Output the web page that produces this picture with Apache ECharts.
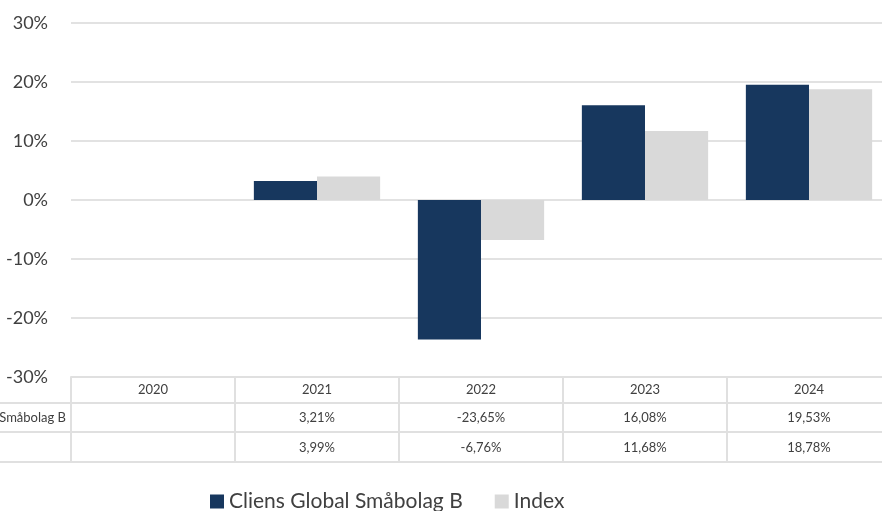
<!DOCTYPE html>
<html>
<head>
<meta charset="utf-8">
<script src="https://cdn.jsdelivr.net/npm/echarts@6/dist/echarts.min.js"></script>
<style>
  html, body { margin: 0; padding: 0; background: #fff; overflow: hidden; }
  #chart { width: 891px; height: 511px; }
</style>
</head>
<body>
<div id="chart"></div>
<script>
var years = ["2020", "2021", "2022", "2023", "2024"];
var fund = [null, 3.21, -23.65, 16.08, 19.53];
var index = [null, 3.99, -6.76, 11.68, 18.78];
var seriesNames = ["Cliens Global Småbolag B", "Index"];
var yTicks = { min: -30, max: 30, step: 10 };

var FONT = "Lato";
var lineCol = "#e0e0e0";
var textCol = "#404040";

function pct(v) {
  if (v == null) return "";
  return v.toFixed(2).replace(".", ",") + "%";
}

// each table row is one more category axis pushed down with offset
function tableRow(values, offset, margin, withTicks) {
  return {
    type: "category",
    gridIndex: 0,
    position: "bottom",
    offset: offset,
    data: years,
    axisLine: { show: true, onZero: false, lineStyle: { color: lineCol, width: 2 } },
    axisTick: withTicks
      ? { show: true, interval: 0, length: 86, lineStyle: { color: lineCol, width: 2 } }
      : { show: false },
    axisLabel: {
      show: values != null,
      interval: 0,
      margin: margin,
      color: textCol,
      fontFamily: FONT,
      fontSize: 13,
      formatter: function (val, i) {
        return values ? values[i] : "";
      }
    },
    splitLine: { show: false }
  };
}

var chart = echarts.init(document.getElementById("chart"));

var option = {
  animation: false,
  grid: { left: 71, right: 0, top: 23, bottom: 134, containLabel: false },
  legend: {
    left: 205,
    top: 486,
    icon: "rect",
    itemWidth: 14,
    itemHeight: 14,
    itemGap: 32,
    textStyle: { color: textCol, fontFamily: FONT, fontSize: 21 },
    data: seriesNames
  },
  xAxis: [
    tableRow(years, 0, 6, true),
    tableRow(fund.map(pct), 26, 8, false),
    tableRow(index.map(pct), 55, 9, false),
    tableRow(null, 85, 8, false)
  ],
  yAxis: {
    type: "value",
    min: yTicks.min,
    max: yTicks.max,
    interval: yTicks.step,
    axisLine: { show: false },
    axisTick: { show: false },
    axisLabel: {
      margin: 23,
      color: textCol,
      fontFamily: FONT,
      fontSize: 18,
      formatter: function (v) { return v + "%"; }
    },
    splitLine: { lineStyle: { color: "#d9d9d9", width: 1.5 } }
  },
  graphic: [
    {
      type: "text",
      x: 66,
      y: 418,
      style: {
        text: seriesNames[0],
        align: "right",
        verticalAlign: "middle",
        fill: textCol,
        font: "13px " + FONT
      }
    },
    { type: "line", shape: { x1: 0, y1: 403, x2: 71, y2: 403 }, style: { stroke: lineCol, lineWidth: 2 } },
    { type: "line", shape: { x1: 0, y1: 432, x2: 71, y2: 432 }, style: { stroke: lineCol, lineWidth: 2 } },
    { type: "line", shape: { x1: 0, y1: 462, x2: 71, y2: 462 }, style: { stroke: lineCol, lineWidth: 2 } }
  ],
  series: [
    {
      name: seriesNames[0],
      type: "bar",
      xAxisIndex: 0,
      data: fund,
      barGap: "0%",
      barCategoryGap: "23%",
      itemStyle: { color: "#17375e" }
    },
    {
      name: seriesNames[1],
      type: "bar",
      xAxisIndex: 0,
      data: index,
      itemStyle: { color: "#d9d9d9" }
    }
  ]
};

chart.setOption(option);
</script>
</body>
</html>
